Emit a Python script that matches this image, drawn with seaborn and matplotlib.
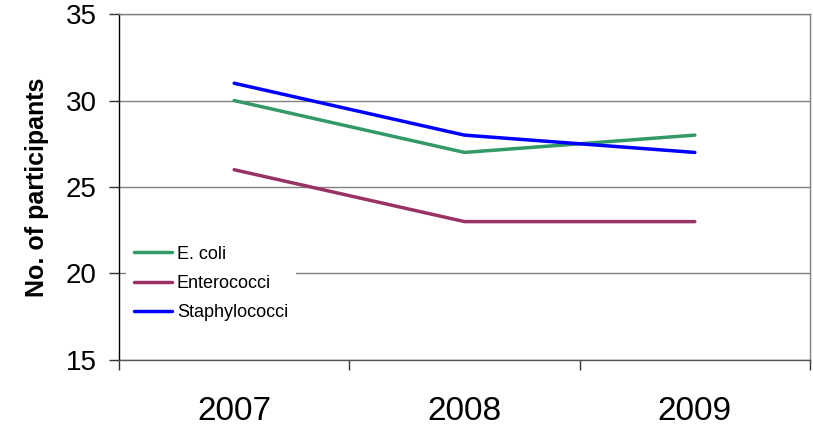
import matplotlib
matplotlib.use("Agg")
import matplotlib.pyplot as plt
import seaborn as sns
import pandas as pd

years = ["2007", "2008", "2009"]
ecoli = [30, 27, 28]
enterococci = [26, 23, 23]
staphylococci = [31, 28, 27]
series_names = ["E. coli", "Enterococci", "Staphylococci"]
colors = ["#339966", "#993366", "#0000FF"]

sns.set_style("white")
plt.rcParams["font.family"] = ["Liberation Sans", "DejaVu Sans"]
plt.rcParams["text.color"] = "black"
plt.rcParams["axes.labelcolor"] = "black"
plt.rcParams["xtick.color"] = "black"
plt.rcParams["ytick.color"] = "black"

rows = []
for name, vals in zip(series_names, [ecoli, enterococci, staphylococci]):
    for i, (yr, v) in enumerate(zip(years, vals)):
        rows.append({"pos": i, "year": yr, "value": v, "series": name})
df = pd.DataFrame(rows)

fig = plt.figure(figsize=(8.13, 4.26), dpi=100)
ax = fig.add_axes([0.1464, 0.155, 0.8499, 0.812])

sns.lineplot(data=df, x="pos", y="value", hue="series", hue_order=series_names,
             palette=colors, linewidth=2.5, ax=ax, legend=True)

ax.set_xlim(-0.5, 2.5)
ax.set_ylim(15, 35)
ax.set_yticks([15, 20, 25, 30, 35])
ax.set_xticks([0, 1, 2])
ax.set_xticklabels(years, fontsize=24)
ax.set_xticks([-0.5, 0.5, 1.5, 2.5], minor=True)
ax.tick_params(axis="x", which="major", bottom=True, length=0, pad=26)
ax.tick_params(axis="x", which="minor", bottom=True, length=7, width=1,
               color="#333333", direction="out")
ax.tick_params(axis="y", left=True, labelsize=20, length=7, width=1,
               color="#333333", direction="out", pad=9)
ax.yaxis.grid(True, color="#808080", linewidth=1)
ax.set_axisbelow(True)

ax.set_xlabel("")
ax.set_ylabel("No. of participants", fontsize=18, fontweight="bold", labelpad=12)

for side in ["top", "right", "left", "bottom"]:
    ax.spines[side].set_visible(True)
ax.spines["left"].set_color("black")
ax.spines["bottom"].set_color("#555555")
ax.spines["top"].set_color("#808080")
ax.spines["right"].set_color("#808080")
for s in ax.spines.values():
    s.set_linewidth(1)

leg = ax.legend(loc="upper left", bbox_to_anchor=(0.0105, 0.354), frameon=True,
                fontsize=13, handlelength=2.1, handletextpad=0.25,
                labelspacing=0.68, borderpad=0.45, borderaxespad=0)
leg.get_frame().set_edgecolor("none")
leg.get_frame().set_facecolor("white")
leg.get_frame().set_alpha(1)
leg.get_frame().set_boxstyle("square", pad=0)
for h in leg.get_lines():
    h.set_linewidth(2.5)

fig.savefig("out.png", dpi=100)
